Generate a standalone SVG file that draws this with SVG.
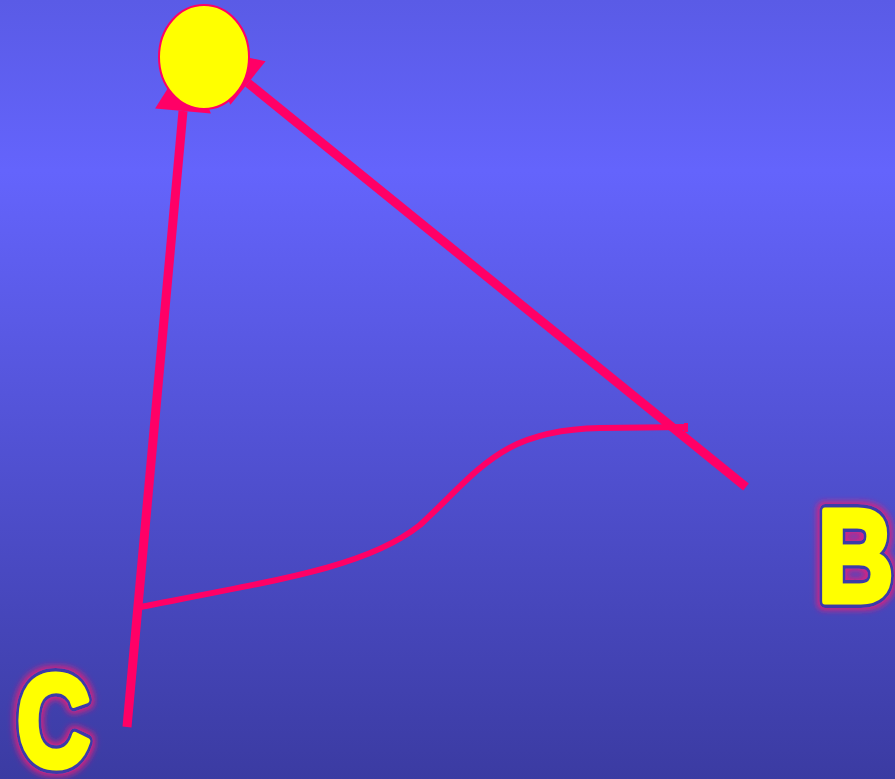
<svg xmlns="http://www.w3.org/2000/svg" width="895" height="779" viewBox="0 0 895 779">
<defs>
<linearGradient id="bg" x1="0" y1="0" x2="0" y2="1">
<stop offset="0" stop-color="#5a5be6"/>
<stop offset="0.22" stop-color="#6464fc"/>
<stop offset="1" stop-color="#3b3ba2"/>
</linearGradient>
<marker id="ah" markerUnits="userSpaceOnUse" markerWidth="60" markerHeight="60" viewBox="0 -30 60 60" refX="0" refY="0" orient="auto" overflow="visible">
<path d="M0,-28 L55,0 L0,28 z" fill="#ff0066"/>
</marker>
<filter id="glow" x="-30%" y="-30%" width="160%" height="160%">
<feMorphology in="SourceAlpha" operator="dilate" radius="2" result="d"/>
<feGaussianBlur in="d" stdDeviation="3" result="b"/>
<feFlood flood-color="#e0207a"/>
<feComposite in2="b" operator="in" result="g"/>
<feMerge><feMergeNode in="g"/><feMergeNode in="SourceGraphic"/></feMerge>
</filter>
</defs>
<style>
.edge{fill:none;stroke:#ff0066}
.lbl{font-family:"Liberation Sans",Arial,sans-serif;font-weight:bold;font-size:130px;stroke-linejoin:round}
.out{fill:#3a3aa8;stroke:#3a3aa8;stroke-width:14}
.in{fill:#ffff00;stroke:#ffff00;stroke-width:7}
</style>
<rect width="895" height="779" fill="url(#bg)"/>
<g id="connectors">
<line class="edge" x1="127" y1="727" x2="183" y2="111" stroke-width="9" marker-end="url(#ah)"/>
<line class="edge" x1="746" y1="487" x2="248" y2="83" stroke-width="9" marker-end="url(#ah)"/>
<path class="edge" d="M140,607 C290,578 370,565 420,525 C480,470 500,430 600,428 L686,427" stroke-width="6"/>
<line class="edge" x1="686" y1="423" x2="686" y2="432" stroke-width="4"/>
</g>
<g id="node-top">
<ellipse cx="204" cy="57" rx="45" ry="52" fill="#ffff00" stroke="#ff0066" stroke-width="2"/>
</g>
<g id="label-B" filter="url(#glow)">
<g transform="translate(818,601) scale(0.8,1)">
<text class="lbl out">B</text>
<text class="lbl in">B</text>
</g>
</g>
<g id="label-C" filter="url(#glow)">
<g transform="translate(17,766) scale(0.78,1)">
<text class="lbl out">C</text>
<text class="lbl in">C</text>
</g>
</g>
</svg>
